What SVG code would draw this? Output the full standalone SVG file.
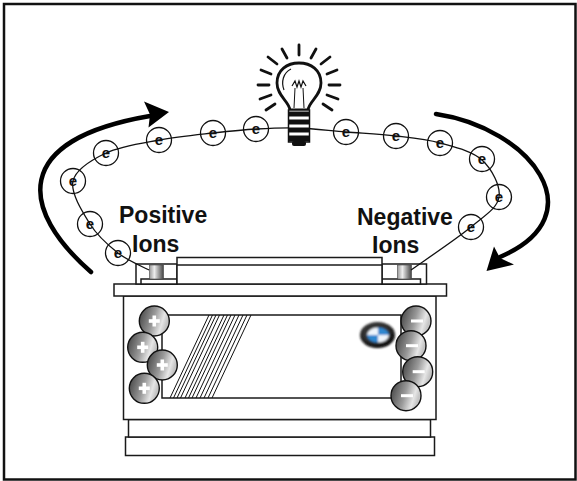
<svg xmlns="http://www.w3.org/2000/svg" width="577" height="481" viewBox="0 0 577 481">
  <style>
    .frame { fill: #fff; stroke: #111; stroke-width: 2.5; }
    .part { fill: #fff; stroke: #1a1a1a; stroke-width: 1.5; }
    .wire { fill: none; stroke: #111; stroke-width: 1.3; }
    .ring { fill: none; stroke: #111; stroke-width: 1.3; }
    .e { font-family: "Liberation Sans", Arial, sans-serif; font-weight: bold; font-size: 15px; fill: #111; text-anchor: middle; }
    .label { font-family: "Liberation Sans", Arial, sans-serif; font-weight: bold; font-size: 23px; fill: #111; }
    .flow { fill: none; stroke: #000; stroke-width: 4.5; stroke-linecap: round; }
    .head { fill: #000; }
    .hatch { stroke: #111; stroke-width: 1; fill: none; }
    .ion { stroke: #111; stroke-width: 1.4; }
    .sign { fill: #fff; }
    .ray { stroke: #111; stroke-width: 2.8; stroke-linecap: round; }
  </style>
  <defs>
    <linearGradient id="ionFill" x1="0" y1="0" x2="1" y2="0.3">
      <stop offset="0" stop-color="#3c3c3c"/>
      <stop offset="0.55" stop-color="#9a9a9a"/>
      <stop offset="0.85" stop-color="#e6e6e6"/>
      <stop offset="1" stop-color="#c4c4c4"/>
    </linearGradient>
    <linearGradient id="postFill" x1="0" y1="0" x2="1" y2="0">
      <stop offset="0" stop-color="#999"/>
      <stop offset="0.35" stop-color="#eee"/>
      <stop offset="1" stop-color="#444"/>
    </linearGradient>
    <radialGradient id="logoRing" cx="0.45" cy="0.4" r="0.6">
      <stop offset="0.6" stop-color="#333"/>
      <stop offset="1" stop-color="#000"/>
    </radialGradient>
    <filter id="soft" x="-20%" y="-20%" width="140%" height="140%">
      <feGaussianBlur stdDeviation="0.8"/>
    </filter>
    <circle id="ionBall" r="15" fill="url(#ionFill)" class="ion"/>
  </defs>

  <rect class="frame" x="4" y="4" width="571.5" height="475.5"/>

  <!-- battery -->
  <g id="battery">
    <rect class="part" x="125.5" y="437" width="309" height="18.5"/>
    <rect class="part" x="128.5" y="419.5" width="302" height="17.5"/>
    <rect class="part" x="123.5" y="296" width="312.5" height="123.5"/>
    <rect class="part" x="162" y="315" width="239" height="83"/>
    <rect class="part" x="114" y="284" width="332.5" height="12"/>
    <!-- terminal housings -->
    <rect class="part" x="136" y="264" width="41" height="20"/>
    <rect class="part" x="382" y="264" width="44.5" height="20"/>
    <rect class="part" x="141" y="279" width="36" height="5" stroke-width="1"/>
    <rect class="part" x="382" y="279" width="38.5" height="5" stroke-width="1"/>
    <rect x="149.5" y="265" width="14" height="14" fill="url(#postFill)" stroke="#444" stroke-width="0.6"/>
    <rect x="397.5" y="265" width="14" height="14" fill="url(#postFill)" stroke="#444" stroke-width="0.6"/>
    <!-- raised centre of lid -->
    <rect class="part" x="177" y="257.5" width="205" height="26.5"/>
    <line class="part" x1="177" y1="265" x2="382" y2="265" stroke-width="1.2"/>
    <!-- label stripes -->
    <g class="hatch">
      <line x1="209" y1="315" x2="170" y2="398"/>
      <line x1="212.5" y1="315" x2="173.5" y2="398"/>
      <line x1="216" y1="315" x2="177" y2="398"/>
      <line x1="219.5" y1="315" x2="180.5" y2="398"/>
      <line x1="224" y1="315" x2="185" y2="398"/>
      <line x1="227.5" y1="315" x2="188.5" y2="398"/>
      <line x1="231" y1="315" x2="192" y2="398"/>
      <line x1="235" y1="315" x2="196" y2="398"/>
      <line x1="239" y1="315" x2="200" y2="398"/>
      <line x1="243" y1="315" x2="204" y2="398"/>
      <line x1="247" y1="315" x2="208" y2="398"/>
      <line x1="251" y1="315" x2="212" y2="398"/>
    </g>
    <!-- roundel -->
    <g filter="url(#soft)">
      <ellipse cx="377.5" cy="335" rx="17.5" ry="13" fill="url(#logoRing)"/>
      <path d="M378,335 L367,335 A11,7.5 0 0 1 378,327.5 Z" fill="#eef4fb"/>
      <path d="M378,335 L378,327.5 A11,7.5 0 0 1 389,335 Z" fill="#2f87d0"/>
      <path d="M378,335 L389,335 A11,7.5 0 0 1 378,342.5 Z" fill="#eef4fb"/>
      <path d="M378,335 L378,342.5 A11,7.5 0 0 1 367,335 Z" fill="#2f87d0"/>
    </g>
  </g>

  <!-- positive ions -->
  <g id="positive-ions">
    <g transform="translate(154.3,321)"><use href="#ionBall"/><rect class="sign" x="-5.5" y="-1.8" width="11" height="3.6"/><rect class="sign" x="-1.8" y="-5.5" width="3.6" height="11"/></g>
    <g transform="translate(142.7,347.3)"><use href="#ionBall"/><rect class="sign" x="-5.5" y="-1.8" width="11" height="3.6"/><rect class="sign" x="-1.8" y="-5.5" width="3.6" height="11"/></g>
    <g transform="translate(162.3,365)"><use href="#ionBall"/><rect class="sign" x="-5.5" y="-1.8" width="11" height="3.6"/><rect class="sign" x="-1.8" y="-5.5" width="3.6" height="11"/></g>
    <g transform="translate(144.3,388.3)"><use href="#ionBall"/><rect class="sign" x="-5.5" y="-1.8" width="11" height="3.6"/><rect class="sign" x="-1.8" y="-5.5" width="3.6" height="11"/></g>
  </g>

  <!-- negative ions -->
  <g id="negative-ions">
    <g transform="translate(416,321)"><use href="#ionBall"/><rect class="sign" x="-5" y="-1.5" width="12" height="3"/></g>
    <g transform="translate(411,345.7)"><use href="#ionBall"/><rect class="sign" x="-5" y="-1.5" width="12" height="3"/></g>
    <g transform="translate(417.7,371.7)"><use href="#ionBall"/><rect class="sign" x="-5" y="-1.5" width="12" height="3"/></g>
    <g transform="translate(406,395.7)"><use href="#ionBall"/><rect class="sign" x="-5" y="-1.5" width="12" height="3"/></g>
  </g>

  <!-- connectors: the circuit wire and the two flow arrows -->
  <g id="connectors">
    <path class="wire" d="M149,270 C143.8,267.2 127.8,260.7 118,253 C108.2,245.3 97.5,236 90,224 C82.5,212 70.3,192.8 73,181 C75.7,169.2 91.7,159.8 106,153 C120.3,146.2 141.2,143.3 159,140 C176.8,136.7 196.8,134.8 213,133 C229.2,131.2 241.8,129.8 256,129 C270.2,128.2 283,127.5 298,128 C313,128.5 329.7,130.7 346,132 C362.3,133.3 380.3,134.2 396,136 C411.7,137.8 425.7,139 440,143 C454.3,147 472.2,151 482,160 C491.8,169 500.8,185.8 499,197 C497.2,208.2 485.7,214.8 471,227 C456.3,239.2 421,262.8 411,270"/>
    <path class="flow" d="M91,272 C20,210 10,140 150,116"/>
    <path class="head" d="M169,112 L144,101.5 L150,114.5 L148.5,127.5 Z"/>
    <path class="flow" d="M436,114 C530,128 598,215 500,257"/>
    <path class="head" d="M486.5,271 L494,246.5 L500,258 L514,264.5 Z"/>
  </g>

  <!-- electrons -->
  <g id="electrons">
    <g transform="translate(118,253)"><circle class="ring" r="12.5"/><text class="e" y="5">e</text></g>
    <g transform="translate(90,224)"><circle class="ring" r="12.5"/><text class="e" y="5">e</text></g>
    <g transform="translate(73,181)"><circle class="ring" r="12.5"/><text class="e" y="5">e</text></g>
    <g transform="translate(106,153)"><circle class="ring" r="12.5"/><text class="e" y="5">e</text></g>
    <g transform="translate(159,140)"><circle class="ring" r="12.5"/><text class="e" y="5">e</text></g>
    <g transform="translate(213,133)"><circle class="ring" r="12.5"/><text class="e" y="5">e</text></g>
    <g transform="translate(256,129)"><circle class="ring" r="12.5"/><text class="e" y="5">e</text></g>
    <g transform="translate(346,132)"><circle class="ring" r="12.5"/><text class="e" y="5">e</text></g>
    <g transform="translate(396,136)"><circle class="ring" r="12.5"/><text class="e" y="5">e</text></g>
    <g transform="translate(440,143)"><circle class="ring" r="12.5"/><text class="e" y="5">e</text></g>
    <g transform="translate(482,159)"><circle class="ring" r="12.5"/><text class="e" y="5">e</text></g>
    <g transform="translate(499,197)"><circle class="ring" r="12.5"/><text class="e" y="5">e</text></g>
    <g transform="translate(471,227)"><circle class="ring" r="12.5"/><text class="e" y="5">e</text></g>
  </g>

  <!-- light bulb -->
  <g id="bulb">
    <g class="ray">
      <line x1="271" y1="95" x2="260" y2="99"/>
      <line x1="269" y1="85" x2="258" y2="85"/>
      <line x1="271" y1="74" x2="261" y2="70"/>
      <line x1="277" y1="64" x2="268" y2="57"/>
      <line x1="287" y1="58" x2="282" y2="49"/>
      <line x1="299" y1="55" x2="299" y2="45"/>
      <line x1="311" y1="58" x2="316" y2="49"/>
      <line x1="321" y1="64" x2="330" y2="57"/>
      <line x1="327" y1="74" x2="337" y2="70"/>
      <line x1="329" y1="85" x2="340" y2="85"/>
      <line x1="327" y1="95" x2="338" y2="99"/>
      <line x1="323" y1="104" x2="332" y2="110"/>
      <line x1="275" y1="104" x2="266" y2="110"/>
    </g>
    <path d="M290,110 C289,101 277,96 277,83 C277,70 287,63 299,63 C311,63 321,70 321,83 C321,96 309,101 308,110 Z" fill="#fff" stroke="#111" stroke-width="2.8"/>
    <path d="M284,90 C281,82 283,73 291,69" fill="none" stroke="#111" stroke-width="1.2"/>
    <path d="M294,108 L295,88 M304,108 L303,88" fill="none" stroke="#111" stroke-width="1"/>
    <path d="M292,86 L295,81 L297,87 L299,81 L301,87 L303,81 L306,86" fill="none" stroke="#111" stroke-width="1.2"/>
    <rect x="288.5" y="110" width="21" height="32" fill="#fff" stroke="#111" stroke-width="1.5"/>
    <g fill="#111">
      <rect x="288.5" y="111.5" width="21" height="5"/>
      <rect x="288.5" y="119.5" width="21" height="5"/>
      <rect x="288.5" y="127.5" width="21" height="5"/>
      <rect x="288.5" y="135.5" width="21" height="6"/>
      <rect x="292" y="141" width="14" height="5" rx="2"/>
    </g>
  </g>

  <!-- labels -->
  <g id="labels">
    <text class="label" x="119" y="223">Positive</text>
    <text class="label" x="132" y="252">Ions</text>
    <text class="label" x="357" y="225">Negative</text>
    <text class="label" x="372" y="253">Ions</text>
  </g>
</svg>
